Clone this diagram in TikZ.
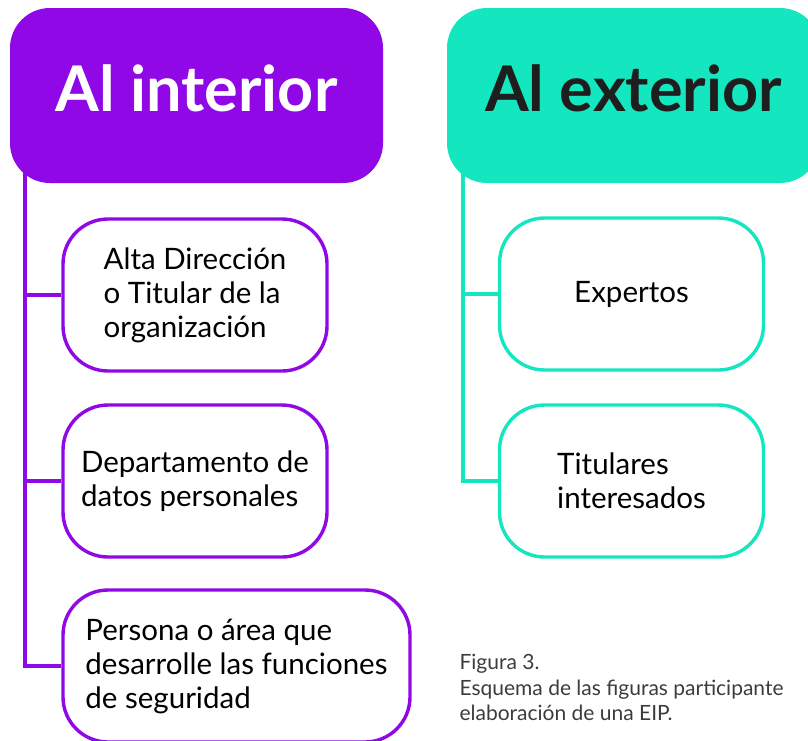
\documentclass[tikz,border=0pt]{standalone}
\usepackage{fontspec}
\setmainfont{Lato}
\usetikzlibrary{backgrounds}
\definecolor{violeta}{RGB}{144,8,230}
\definecolor{turquesa}{RGB}{20,230,192}
\definecolor{negro}{RGB}{30,30,30}
\definecolor{gris}{RGB}{60,60,60}

\begin{document}
\begin{tikzpicture}[x=1pt,y=-1pt,
  titulo/.style={rounded corners=40pt,minimum width=373pt,minimum height=175pt,text depth=14pt,font=\fontsize{63}{66}\selectfont\bfseries},
  caja/.style={draw,line width=3.4pt,rounded corners=45pt,fill=white,minimum width=264pt,minimum height=152pt,align=left,font=\fontsize{29.5}{34}\selectfont},
  rama/.style={line width=3.4pt}]
\useasboundingbox (0,0) rectangle (808,740);
\clip (0,0) rectangle (808,740);
% al interior
\node[titulo,fill=violeta,text=white] (int) at (196.5,95.5) {Al interior};
\node[caja,draw=violeta] (alta) at (195,295) {Alta Dirección\\o Titular de la\\organización};
\node[caja,draw=violeta] (depto) at (195,481) {Departamento de\\datos personales};
\node[caja,draw=violeta,minimum width=347pt] (pers) at (236.5,666) {Persona o área que\\desarrolle las funciones\\de seguridad};
% al exterior
\node[titulo,fill=turquesa,text=negro] (ext) at (633.5,95.5) {Al exterior};
\node[caja,draw=turquesa] (expe) at (631.5,294) {Expertos};
\node[caja,draw=turquesa] (titu) at (631.5,481) {Titulares\\interesados};
% lineas
\begin{scope}[on background layer]
\coordinate (ti) at (25,150);
\coordinate (te) at (463,150);
\draw[rama,violeta] (ti) |- (pers.west);
\draw[rama,violeta] (ti |- alta.west) -- (alta.west);
\draw[rama,violeta] (ti |- depto.west) -- (depto.west);
\draw[rama,turquesa] (te) |- (titu.west);
\draw[rama,turquesa] (te |- expe.west) -- (expe.west);
\end{scope}
% pie de figura
\node[anchor=north west,align=left,text=gris,font=\fontsize{21}{25.5}\selectfont] (pie) at (456,651) {Figura 3.\\Esquema de las figuras participante\\elaboración de una EIP.};
\end{tikzpicture}
\end{document}
